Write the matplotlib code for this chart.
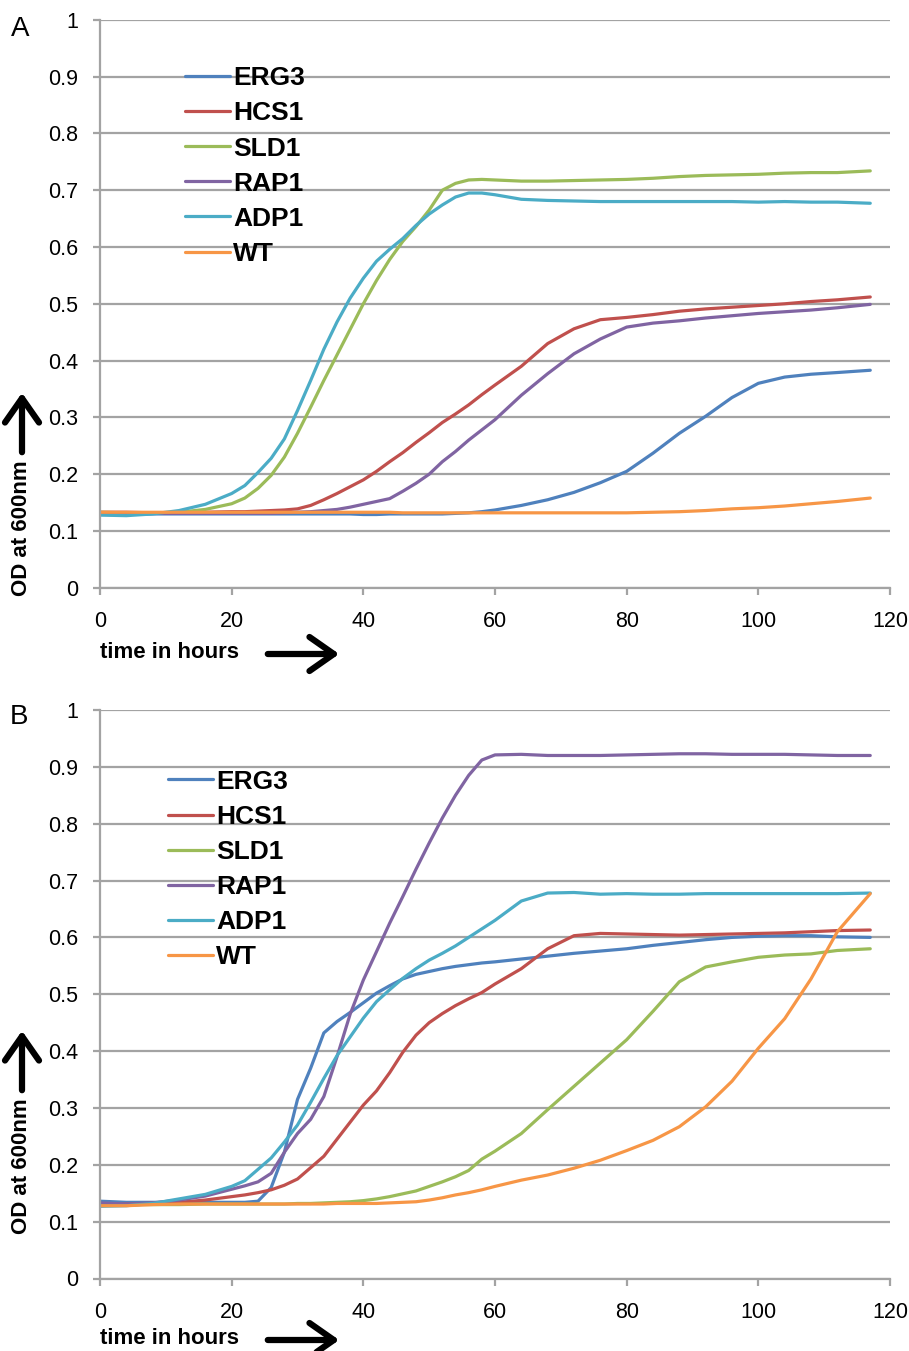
import numpy as np
import matplotlib
matplotlib.use("Agg")
import matplotlib.pyplot as plt

plt.rcParams['font.family'] = ['Liberation Sans', 'DejaVu Sans']

# time points (hours), shared by both panels
hours = [0, 4, 8, 12, 16,
         20, 22, 24, 26, 28, 30, 32, 34, 36, 38, 40, 42, 44, 46, 48, 50, 52, 54, 56, 58, 60,
         64, 68, 72, 76, 80, 84, 88, 92, 96, 100, 104, 108, 112, 117]

strains = ["ERG3", "HCS1", "SLD1", "RAP1", "ADP1", "WT"]
colors = ["#4F81BD", "#C0504D", "#9BBB59", "#8064A2", "#4BACC6", "#F79646"]

# panel A
a_erg3 = [0.129, 0.129, 0.130, 0.130, 0.130,
          0.130, 0.130, 0.130, 0.130, 0.130, 0.130, 0.130, 0.130, 0.130, 0.130, 0.129, 0.129, 0.130, 0.130, 0.130, 0.130, 0.130, 0.131, 0.132, 0.134, 0.137,
          0.145, 0.155, 0.168, 0.185, 0.205, 0.237, 0.272, 0.302, 0.335, 0.360, 0.371, 0.376, 0.379, 0.383]
a_hcs1 = [0.133, 0.133, 0.132, 0.132, 0.133,
          0.134, 0.134, 0.135, 0.136, 0.137, 0.139, 0.145, 0.155, 0.166, 0.178, 0.190, 0.205, 0.222, 0.238, 0.256, 0.273, 0.291, 0.306, 0.322, 0.340, 0.357,
          0.390, 0.430, 0.456, 0.472, 0.476, 0.481, 0.487, 0.491, 0.494, 0.497, 0.500, 0.504, 0.507, 0.512]
a_sld1 = [0.133, 0.132, 0.132, 0.133, 0.138,
          0.148, 0.158, 0.175, 0.198, 0.230, 0.272, 0.318, 0.365, 0.410, 0.455, 0.500, 0.541, 0.578, 0.610, 0.636, 0.665, 0.700, 0.712, 0.718, 0.719, 0.718,
          0.716, 0.716, 0.717, 0.718, 0.719, 0.721, 0.724, 0.726, 0.727, 0.728, 0.730, 0.731, 0.731, 0.734]
a_rap1 = [0.131, 0.131, 0.131, 0.131, 0.131,
          0.131, 0.131, 0.131, 0.131, 0.132, 0.133, 0.134, 0.136, 0.138, 0.142, 0.147, 0.152, 0.157, 0.170, 0.184, 0.200, 0.222, 0.240, 0.260, 0.278, 0.296,
          0.339, 0.377, 0.412, 0.438, 0.459, 0.466, 0.470, 0.475, 0.479, 0.483, 0.486, 0.489, 0.493, 0.499]
a_adp1 = [0.128, 0.127, 0.130, 0.136, 0.147,
          0.166, 0.180, 0.203, 0.228, 0.262, 0.312, 0.365, 0.420, 0.468, 0.510, 0.545, 0.575, 0.596, 0.615, 0.638, 0.658, 0.674, 0.688, 0.695, 0.695, 0.692,
          0.684, 0.682, 0.681, 0.680, 0.680, 0.680, 0.680, 0.680, 0.680, 0.679, 0.680, 0.679, 0.679, 0.677]
a_wt = [0.133, 0.133, 0.133, 0.133, 0.133,
        0.133, 0.133, 0.133, 0.133, 0.133, 0.133, 0.133, 0.133, 0.133, 0.133, 0.133, 0.133, 0.133, 0.132, 0.132, 0.132, 0.132, 0.132, 0.132, 0.132, 0.132,
        0.132, 0.132, 0.132, 0.132, 0.132, 0.133, 0.134, 0.136, 0.139, 0.141, 0.144, 0.148, 0.152, 0.158]

# panel B
b_erg3 = [0.136, 0.134, 0.134, 0.134, 0.134,
          0.134, 0.134, 0.136, 0.160, 0.222, 0.315, 0.370, 0.432, 0.452, 0.468, 0.485, 0.502, 0.515, 0.527, 0.535, 0.540, 0.545, 0.549, 0.552, 0.555, 0.557,
          0.562, 0.567, 0.572, 0.576, 0.580, 0.586, 0.591, 0.596, 0.600, 0.602, 0.603, 0.603, 0.601, 0.600]
b_hcs1 = [0.130, 0.131, 0.132, 0.134, 0.138,
          0.144, 0.147, 0.151, 0.156, 0.164, 0.175, 0.195, 0.215, 0.245, 0.275, 0.305, 0.330, 0.362, 0.398, 0.428, 0.450, 0.466, 0.480, 0.492, 0.503, 0.518,
          0.545, 0.580, 0.603, 0.607, 0.606, 0.605, 0.604, 0.605, 0.606, 0.607, 0.608, 0.610, 0.612, 0.613]
b_sld1 = [0.130, 0.130, 0.130, 0.130, 0.131,
          0.131, 0.131, 0.131, 0.131, 0.131, 0.132, 0.132, 0.133, 0.134, 0.135, 0.137, 0.140, 0.144, 0.149, 0.154, 0.162, 0.170, 0.179, 0.190, 0.210, 0.224,
          0.255, 0.297, 0.338, 0.379, 0.420, 0.470, 0.522, 0.548, 0.557, 0.565, 0.569, 0.571, 0.577, 0.580]
b_rap1 = [0.133, 0.131, 0.133, 0.138, 0.145,
          0.157, 0.163, 0.170, 0.185, 0.222, 0.255, 0.280, 0.320, 0.390, 0.465, 0.525, 0.575, 0.625, 0.672, 0.720, 0.766, 0.810, 0.850, 0.885, 0.912, 0.921,
          0.922, 0.920, 0.920, 0.920, 0.921, 0.922, 0.923, 0.923, 0.922, 0.922, 0.922, 0.921, 0.920, 0.920]
b_adp1 = [0.127, 0.128, 0.132, 0.140, 0.148,
          0.162, 0.172, 0.192, 0.212, 0.240, 0.270, 0.310, 0.352, 0.392, 0.425, 0.458, 0.487, 0.508, 0.528, 0.545, 0.560, 0.572, 0.585, 0.600, 0.615, 0.630,
          0.664, 0.678, 0.679, 0.676, 0.677, 0.676, 0.676, 0.677, 0.677, 0.677, 0.677, 0.677, 0.677, 0.678]
b_wt = [0.128, 0.128, 0.130, 0.131, 0.131,
        0.131, 0.131, 0.131, 0.131, 0.131, 0.131, 0.131, 0.131, 0.132, 0.132, 0.132, 0.132, 0.133, 0.134, 0.135, 0.138, 0.142, 0.147, 0.151, 0.156, 0.162,
        0.173, 0.182, 0.194, 0.208, 0.225, 0.243, 0.267, 0.302, 0.347, 0.405, 0.457, 0.527, 0.610, 0.677]

panel_a = [a_erg3, a_hcs1, a_sld1, a_rap1, a_adp1, a_wt]
panel_b = [b_erg3, b_hcs1, b_sld1, b_rap1, b_adp1, b_wt]

yticks = [0, 0.1, 0.2, 0.3, 0.4, 0.5, 0.6, 0.7, 0.8, 0.9, 1]
ytick_labels = ["0", "0.1", "0.2", "0.3", "0.4", "0.5", "0.6", "0.7", "0.8", "0.9", "1"]
xticks = [0, 20, 40, 60, 80, 100, 120]

W, H = 909, 1351
fig = plt.figure(figsize=(W / 100, H / 100), dpi=100)
grey = "#a3a3a3"


def fx(x):
    return x / W


def fy(y):
    return 1 - y / H


def style_axes(ax, series, leg_x, leg_y):
    for vals, name, c in zip(series, strains, colors):
        ax.plot(hours, vals, color=c, lw=2.3, label=name, solid_capstyle='round')
    ax.set_xlim(0, 120)
    ax.set_ylim(0, 1)
    ax.set_yticks(yticks)
    ax.set_yticklabels(ytick_labels)
    ax.set_xticks(xticks)
    ax.grid(axis='y', color=grey, lw=1.6)
    ax.set_axisbelow(True)
    for s in ['top', 'right']:
        ax.spines[s].set_visible(False)
    for s in ['left', 'bottom']:
        ax.spines[s].set_color(grey)
        ax.spines[s].set_linewidth(1.6)
    ax.tick_params(direction='out', length=5, width=1.6, color=grey, labelsize=15.5)
    ax.tick_params(axis='y', pad=11)
    ax.tick_params(axis='x', pad=12)
    ax.legend(loc='upper left', bbox_to_anchor=(leg_x, leg_y), frameon=False,
              prop=dict(weight='bold', size=19), handlelength=1.7,
              handletextpad=0.12, labelspacing=0.42, borderaxespad=0, borderpad=0)


axA = fig.add_axes([fx(100), fy(587.8), 790 / W, 568 / H])
axB = fig.add_axes([fx(100), fy(1278.5), 790 / W, 568.5 / H])
style_axes(axA, panel_a, 0.108, 0.918)
style_axes(axB, panel_b, 0.086, 0.895)

# panel letters
fig.text(fx(11), fy(29), "A", fontsize=20, va='center')
fig.text(fx(10), fy(717), "B", fontsize=20, va='center')

arrow = dict(arrowstyle='->,head_length=0.5,head_width=0.35', lw=4.5, color='black',
             mutation_scale=35)
# (offset of the y label block, offset of the x label block) for each panel
for oy, ox in [(0, 0), (638, 686)]:
    fig.text(fx(22), fy(528 + oy), "OD at 600nm", rotation=90, ha='center',
             va='center', fontsize=16, weight='bold')
    axA.annotate('', xy=(22, H - 390 - oy), xytext=(22, H - 455 - oy),
                 xycoords='figure pixels', textcoords='figure pixels',
                 arrowprops=arrow, annotation_clip=False)
    fig.text(fx(100), fy(652 + ox), "time in hours", ha='left',
             va='center', fontsize=16, weight='bold')
    axA.annotate('', xy=(342, H - 654 - ox), xytext=(265, H - 654 - ox),
                 xycoords='figure pixels', textcoords='figure pixels',
                 arrowprops=arrow, annotation_clip=False)

fig.savefig("out.png", dpi=100)
